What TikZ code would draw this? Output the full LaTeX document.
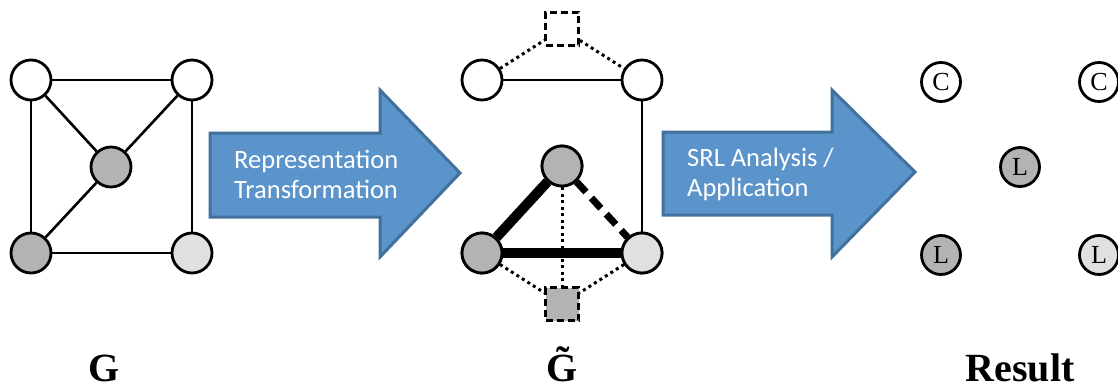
\documentclass[tikz,border=0pt]{standalone}
\usepackage{fontspec}
\setmainfont{Liberation Serif}
\newfontfamily\arrowfont{Carlito}
\definecolor{midgray}{HTML}{B3B3B3}
\definecolor{lightgray}{HTML}{E0E0E0}
\definecolor{arrowblue}{HTML}{5B93CB}
\definecolor{arrowedge}{HTML}{41719C}
\tikzset{
  vertex/.style={circle, draw, line width=2.8pt, minimum size=40pt, inner sep=0pt, fill=white},
  gvertex/.style={vertex, fill=midgray},
  lvertex/.style={vertex, fill=lightgray},
  rvertex/.style={vertex, minimum size=39pt, font=\fontsize{26}{26}\selectfont},
  hyper/.style={rectangle, draw, line width=2.8pt, minimum size=33pt, inner sep=0pt, dash pattern=on 7pt off 4pt},
  edge/.style={line width=2.6pt},
  heavy/.style={line width=10pt},
  dotedge/.style={line width=3pt, dash pattern=on 3pt off 3.5pt},
  bigarrow/.style={fill=arrowblue, draw=arrowedge, line width=3pt, line join=miter},
  arrowtext/.style={anchor=west, align=left, text=white, font=\arrowfont\fontsize{26.5}{30}\selectfont, inner sep=0pt},
  caption/.style={anchor=base, font=\fontsize{40}{40}\selectfont\bfseries, inner sep=0pt, text depth=0pt}
}
\begin{document}
\begin{tikzpicture}[x=1pt, y=-1pt]
  \useasboundingbox (0,0) rectangle (1118,385);

  % input graph
  \node[vertex] (g1) at (31,80) {};
  \node[vertex] (g2) at (192,80) {};
  \node[gvertex] (g3) at (111,167) {};
  \node[gvertex] (g4) at (31,253) {};
  \node[lvertex] (g5) at (192,253) {};
  \draw[edge] (g1) -- (g2);
  \draw[edge] (g1) -- (g4);
  \draw[edge] (g2) -- (g5);
  \draw[edge] (g4) -- (g5);
  \draw[edge] (g1) -- (g3);
  \draw[edge] (g2) -- (g3);
  \draw[edge] (g4) -- (g3);

  % transformation arrow
  \draw[bigarrow] (210,133) -- (380,133) -- (380,90) -- (460,173) -- (380,257) -- (380,217) -- (210,217) -- cycle;
  \node[arrowtext] (trans) at (234,174) {Representation\\Transformation};

  % transformed graph
  \node[vertex] (t1) at (482,80) {};
  \node[vertex] (t2) at (642,80) {};
  \node[hyper] (h1) at (562,29) {};
  \node[gvertex] (t3) at (562,166) {};
  \node[gvertex] (t4) at (482,253) {};
  \node[lvertex] (t5) at (642,253) {};
  \node[hyper, fill=midgray] (h2) at (562,304) {};
  \draw[edge] (t1) -- (t2);
  \draw[edge] (t2) -- (t5);
  \draw[dotedge] (t1) -- (h1);
  \draw[dotedge] (h1) -- (t2);
  \draw[dotedge] (t3) -- (h2);
  \draw[dotedge] (t4) -- (h2);
  \draw[dotedge] (t5) -- (h2);
  \draw[heavy] (t3) -- (t4);
  \draw[heavy] (t4) -- (t5);
  \draw[line width=7pt, dash pattern=on 14pt off 8pt] (t3) -- (t5);
  \node[gvertex] at (t3) {};
  \node[gvertex] at (t4) {};
  \node[lvertex] at (t5) {};

  % analysis arrow
  \draw[bigarrow] (663,132) -- (832,132) -- (832,90) -- (915,172) -- (832,257) -- (832,215) -- (663,215) -- cycle;
  \node[arrowtext] (srl) at (687,174) {SRL Analysis /\\Application};

  % result
  \node[rvertex] (r1) at (941,82) {C};
  \node[rvertex] (r2) at (1099,82) {C};
  \node[rvertex, fill=midgray] (r3) at (1020,167) {L};
  \node[rvertex, fill=midgray] (r4) at (941,255) {L};
  \node[rvertex, fill=lightgray] (r5) at (1099,255) {L};

  % captions
  \node[caption] (capg) at (104,381) {G};
  \node[caption] (capt) at (562,381) {\~{G}};
  \node[caption] (capr) at (1020,381) {Result};
\end{tikzpicture}
\end{document}
